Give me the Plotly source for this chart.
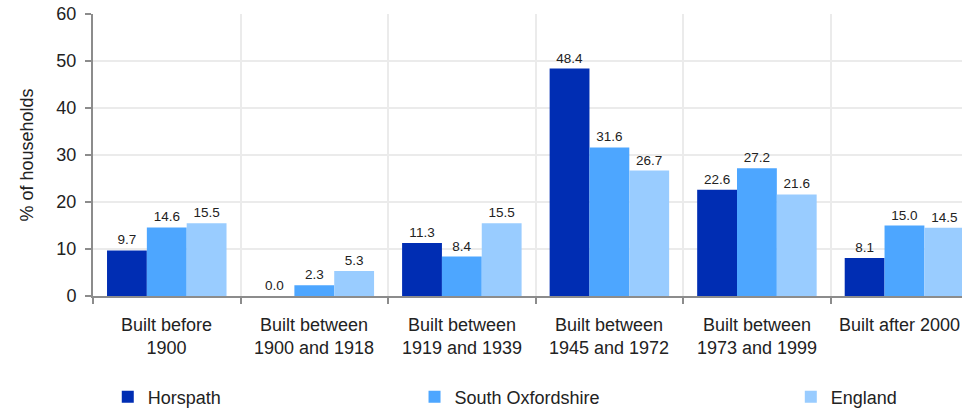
import plotly.graph_objects as go

categories = [
    "Built before<br>1900",
    "Built between<br>1900 and 1918",
    "Built between<br>1919 and 1939",
    "Built between<br>1945 and 1972",
    "Built between<br>1973 and 1999",
    "Built after 2000",
]
horspath = [9.7, 0.0, 11.3, 48.4, 22.6, 8.1]
south_oxfordshire = [14.6, 2.3, 8.4, 31.6, 27.2, 15.0]
england = [15.5, 5.3, 15.5, 26.7, 21.6, 14.5]

series = [
    ("Horspath", horspath, "#002db3", "legend", 0.017),
    ("South Oxfordshire", south_oxfordshire, "#4da6ff", "legend2", 0.370),
    ("England", england, "#99ccff", "legend3", 0.803),
]

FONT = "Liberation Sans, Arial, sans-serif"
TXT = "#222222"

fig = go.Figure()
for name, vals, color, leg, _ in series:
    fig.add_trace(go.Bar(
        name=name,
        x=categories,
        y=vals,
        marker=dict(color=color, line=dict(width=0)),
        text=[f"{v:.1f}" for v in vals],
        textposition="outside",
        textfont=dict(family=FONT, size=13.5, color=TXT),
        cliponaxis=False,
        legend=leg,
    ))

# Category labels under the axis; the last one is nudged left so it stays
# inside the figure edge.
for i, cat in enumerate(categories):
    fig.add_annotation(
        x=cat, y=0, xref="x", yref="y",
        text=cat, showarrow=False,
        xanchor="center", yanchor="top",
        yshift=-17, xshift=-5 if i == len(categories) - 1 else 0,
        font=dict(family=FONT, size=18, color=TXT),
    )

legend_common = dict(
    orientation="h",
    yanchor="middle",
    xanchor="left",
    y=-0.358,
    font=dict(family=FONT, size=18, color=TXT),
    bgcolor="rgba(0,0,0,0)",
    borderwidth=0,
)
layout_legends = {}
for _, _, _, leg, lx in series:
    layout_legends[leg] = dict(legend_common, x=lx)

fig.update_layout(
    width=962,
    height=408,
    margin=dict(l=93, r=0, t=14, b=112, autoexpand=False),
    paper_bgcolor="white",
    plot_bgcolor="white",
    barmode="group",
    bargap=0.19,
    bargroupgap=0,
    font=dict(family=FONT, size=18, color=TXT),
    showlegend=True,
    xaxis=dict(
        type="category",
        range=[-0.5, 5.39],
        tickson="boundaries",
        showticklabels=False,
        showgrid=True,
        gridcolor="#ebebeb",
        gridwidth=2,
        showline=True,
        linecolor="#8c8c8c",
        linewidth=2,
        ticks="outside",
        ticklen=6,
        tickwidth=2,
        tickcolor="#8c8c8c",
    ),
    yaxis=dict(
        range=[0, 60],
        dtick=10,
        showgrid=True,
        gridcolor="#ebebeb",
        gridwidth=2,
        zeroline=False,
        showline=True,
        linecolor="#8c8c8c",
        linewidth=2,
        ticks="outside",
        ticklen=6,
        tickwidth=2,
        tickcolor="#8c8c8c",
        ticklabelstandoff=5,
        tickfont=dict(family=FONT, size=18, color=TXT),
        title=dict(text="% of households", standoff=18,
                   font=dict(family=FONT, size=18, color=TXT)),
    ),
    **layout_legends,
)

fig.write_html("out.html")
